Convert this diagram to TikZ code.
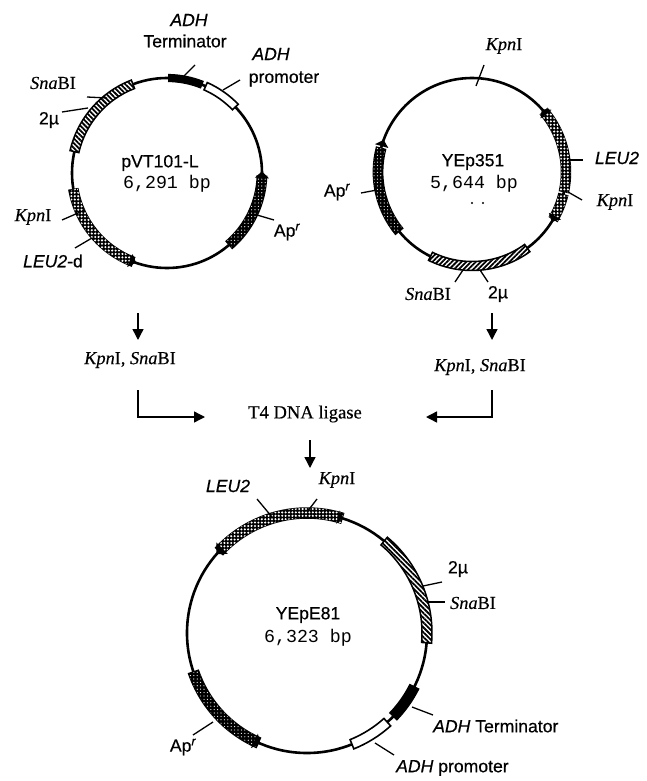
\documentclass[tikz,border=0pt]{standalone}
\usepackage{fontspec}
\setmainfont[RawFeature={embolden=0.5}]{Liberation Sans}
\newfontfamily\serf[RawFeature={embolden=0.3}]{Liberation Serif}
\newfontfamily\monof{Liberation Mono}
\usetikzlibrary{patterns.meta,arrows.meta}
\tikzset{
  lab/.style={inner sep=0pt,font=\fontsize{17.6}{18}\selectfont},
  enz/.style={inner sep=0pt,font=\fontsize{18.3}{18}\serf},
  serl/.style={inner sep=0pt,font=\fontsize{18.6}{18}\serf},
  bp/.style={inner sep=0pt,font=\fontsize{18.3}{18}\monof},
  ring/.style={draw=black,line width=2.6pt},
  ticker/.style={draw=black,line width=1.3pt},
  flow/.style={draw=black,line width=1.4pt,-{Triangle[length=11pt,width=11pt]}},
  hatchband/.style={draw=black,line width=1.5pt,fill=white,postaction={pattern={Lines[angle=-45,distance=3.4pt,line width=1.8pt]}}},
  hatchbandb/.style={draw=black,line width=1.5pt,fill=white,postaction={pattern={Lines[angle=45,distance=3.4pt,line width=1.8pt]}}},
  crossband/.style={draw=black,line width=1.5pt,fill=black,postaction={pattern={Dots[distance=3.4pt,radius=1.15pt]},pattern color=white}},
  darkband/.style={draw=black,line width=1.8pt,fill=black,postaction={pattern={Dots[distance=3.4pt,radius=.6pt]},pattern color=white}},
  blackband/.style={draw=black,line width=1.2pt,fill=black},
  whiteband/.style={draw=black,line width=1.6pt,fill=white},
}
\newcommand\band[7]{%
  \begin{scope}[shift={(#1,#2)}]
    \path[#7] (#4:{#3+#6}) arc[start angle=#4,end angle=#5,radius={(#3+#6)*1pt}]
      -- (#5:{#3-#6}) arc[start angle=#5,end angle=#4,radius={(#3-#6)*1pt}] -- cycle;
  \end{scope}}
\newcommand\bandtip[6]{%
  \begin{scope}[shift={(#1,#2)}]
    \fill[black] (#4:{#3+#6}) -- (#4:{#3-#6}) -- ({#4+#5}:#3) -- cycle;
  \end{scope}}
\newcommand\tick[5]{%
  \coordinate (#1a) at (#2,-#3);
  \coordinate (#1b) at (#4,-#5);
  \draw[ticker] (#1a) -- (#1b);}
\newcommand\kpn{{\itshape Kpn}I}
\newcommand\sna{{\itshape Sna}BI}
\begin{document}
\begin{tikzpicture}[x=1pt,y=1pt]
\useasboundingbox (0,0) rectangle (646,-781);
% ---- pVT101-L
\draw[ring] (167,-173) circle[radius=95pt];
\band{167}{-173}{95}{167}{111}{4.5}{hatchband}
\band{167}{-173}{95}{190}{249}{4.5}{crossband}
\bandtip{167}{-173}{95}{247}{4}{7}
\band{167}{-173}{95}{-2}{-49}{4.5}{darkband}
\bandtip{167}{-173}{95}{-3}{4}{7}
\band{167}{-173}{95}{89}{68.5}{3.5}{blackband}
\band{167}{-173}{95}{66}{44}{4}{whiteband}
\tick{ta}{183}{77}{195}{65}
\tick{tb}{223}{90}{240}{80}
\tick{tc}{257}{215}{274}{220}
\tick{td}{62}{220}{85}{210}
\tick{te}{75}{248}{92}{238}
\tick{tf}{62}{112}{88}{108}
\tick{tg}{87}{97}{107}{98}
\node[lab] (a1) at (189,-20) {\itshape ADH};
\node[lab] (a2) at (185,-41) {Terminator};
\node[lab] (a3) at (271,-54) {\itshape ADH};
\node[lab] (a4) at (284,-79) {promoter};
\node[enz] (a5) at (53,-83) {\sna};
\node[lab] (a6) at (49,-120) {2µ};
\node[lab] (a7) at (160,-163) {pVT101-L};
\node[bp] (a8) at (167,-184) {6,291 bp};
\node[enz] (a9) at (33,-217) {\kpn};
\node[lab] (a10) at (53,-261) {{\itshape LEU2}-d};
\node[lab] (a11) at (287,-232) {Ap\textsuperscript{\itshape r}};
% ---- YEp351
\draw[ring] (472,-172) circle[radius=94pt];
\band{472}{-172}{94}{40}{-12}{4.5}{crossband}
\band{472}{-172}{94}{-14}{-30}{4.5}{crossband}
\bandtip{472}{-172}{94}{38}{4}{7}
\bandtip{472}{-172}{94}{-28}{-4}{7}
\band{472}{-172}{94}{243.8}{306}{4.5}{hatchbandb}
\band{472}{-172}{94}{165.5}{219}{4.5}{darkband}
\bandtip{472}{-172}{94}{164}{-4}{7}
\tick{ua}{476}{86}{484}{65}
\tick{ub}{568}{160}{583}{160}
\tick{uc}{568}{192}{582}{200}
\tick{ud}{463}{270}{455}{282}
\tick{ue}{480}{270}{488}{282}
\tick{uf}{361}{193}{377}{190}
\node[enz] (b1) at (504,-46) {\kpn};
\node[lab] (b2) at (473,-162) {YEp351};
\node[bp] (b3) at (474,-184) {5,644 bp};
\fill (472,-203) circle[radius=1.2pt] (483,-203) circle[radius=1.2pt];
\node[lab] (b5) at (337,-192) {Ap\textsuperscript{\itshape r}};
\node[lab] (b6) at (617,-158) {\itshape LEU2};
\node[enz] (b7) at (615,-202) {\kpn};
\node[enz] (b8) at (428,-294) {\sna};
\node[lab] (b9) at (498,-294) {2µ};
% ---- flow
\node[enz] (c1) at (130,-360) {\kpn, \sna};
\node[enz] (c2) at (480,-367) {\kpn, \sna};
\node[serl] (c3) at (305,-414) {T4 DNA ligase};
\coordinate (f1) at (138,-313);
\coordinate (f1t) at (138,-340);
\coordinate (f2) at (492,-313);
\coordinate (f2t) at (492,-340);
\coordinate (f3) at (138,-390);
\coordinate (f3c) at (138,-417);
\coordinate (f3t) at (205,-417);
\coordinate (f4) at (492,-390);
\coordinate (f4c) at (492,-417);
\coordinate (f4t) at (426,-417);
\coordinate (f5) at (310,-440);
\coordinate (f5t) at (310,-468);
\draw[flow] (f1) -- (f1t);
\draw[flow] (f2) -- (f2t);
\draw[flow] (f3) -- (f3c) -- (f3t);
\draw[flow] (f4) -- (f4c) -- (f4t);
\draw[flow] (f5) -- (f5t);
% ---- YEpE81
\draw[ring] (307,-633) circle[radius=120pt];
\band{307}{-633}{120}{73}{137}{5}{crossband}
\bandtip{307}{-633}{120}{135}{4}{8}
\bandtip{307}{-633}{120}{75}{-2}{7}
\band{307}{-633}{120}{50}{-4.7}{5}{hatchband}
\band{307}{-633}{120}{-26.6}{-44}{5}{blackband}
\band{307}{-633}{120}{-48}{-68}{5}{whiteband}
\band{307}{-633}{120}{246}{199}{5}{darkband}
\bandtip{307}{-633}{120}{244}{3}{8}
\tick{va}{307}{512}{317}{499}
\tick{vb}{272}{517}{257}{499}
\tick{vc}{423}{586}{442}{582}
\tick{vd}{428}{602}{445}{602}
\tick{ve}{412}{707}{433}{715}
\tick{vf}{375}{743}{394}{755}
\tick{vg}{213}{722}{193}{735}
\node[lab] (d1) at (228,-486) {\itshape LEU2};
\node[enz] (d2) at (337,-480) {\kpn};
\node[lab] (d3) at (458,-569) {2µ};
\node[enz] (d4) at (473,-603) {\sna};
\node[lab] (d5) at (308,-615) {YEpE81};
\node[bp] (d6) at (308,-638) {6,323 bp};
\node[lab,anchor=west] (d7) at (433,-726) {{\itshape ADH} Terminator};
\node[lab,anchor=west] (d8) at (396,-768) {{\itshape ADH} promoter};
\node[lab] (d9) at (183,-747) {Ap\textsuperscript{\itshape r}};
\end{tikzpicture}
\end{document}
